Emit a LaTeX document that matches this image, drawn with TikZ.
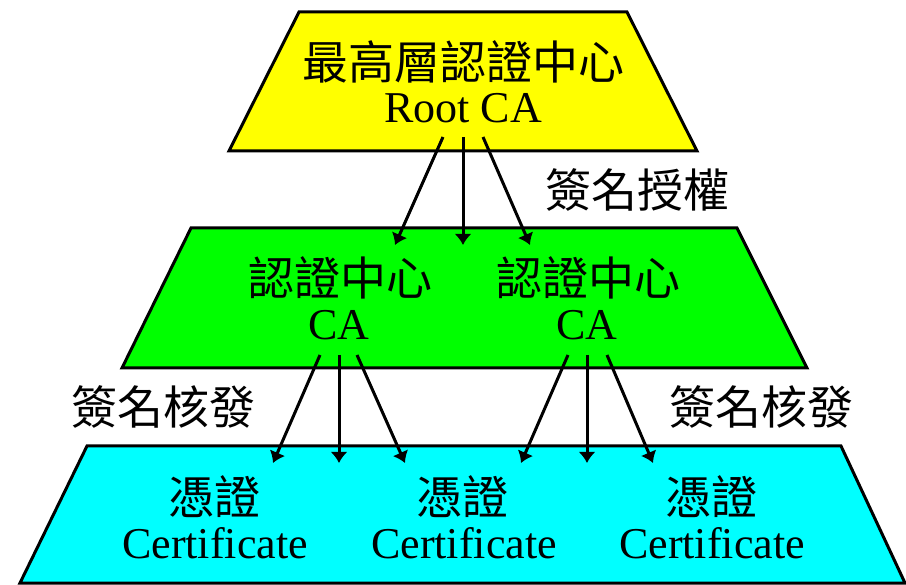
\documentclass[tikz,border=0pt]{standalone}
\usepackage{fontspec}
\setmainfont{Liberation Serif}
\newfontfamily\cjk{Noto Sans CJK TC}
\usetikzlibrary{arrows.meta}
\definecolor{rootyellow}{RGB}{255,255,0}
\definecolor{cagreen}{RGB}{0,255,0}
\definecolor{certcyan}{RGB}{0,255,255}
\tikzset{
  zh/.style = {font = \cjk\fontsize{46}{46}\selectfont, inner sep = 0pt},
  en/.style = {font = \fontsize{44}{44}\selectfont, inner sep = 0pt},
  sign/.style = {-{Latex[length = 11pt, width = 17pt]}, line width = 3pt},
  layer/.style = {line width = 3pt, line join = miter}
}
\begin{document}
\begin{tikzpicture}[x = 1pt, y = -1pt]
    \useasboundingbox (0, 0) rectangle (906, 585);
    \draw[layer, fill = rootyellow] (299, 12) -- (627, 12) -- (697, 151) --
          (229, 151) -- cycle;
    \draw[layer, fill = cagreen] (191, 228) -- (737, 228) -- (807, 368) --
          (122, 368) -- cycle;
    \draw[layer, fill = certcyan] (87, 446) -- (841, 446) -- (905, 583) --
          (20, 583) -- cycle;

    \node[zh] (rootzh) at (463, 62) {最高層認證中心};
    \node[en] (rooten) at (463, 108) {Root CA};
    \node[zh] (cazhl) at (340, 278) {認證中心};
    \node[en] (caenl) at (339, 325) {CA};
    \node[zh] (cazhr) at (588, 278) {認證中心};
    \node[en] (caenr) at (587, 325) {CA};
    \node[zh] (certzha) at (214, 497) {憑證};
    \node[en] (certena) at (215, 543) {Certificate};
    \node[zh] (certzhb) at (462, 497) {憑證};
    \node[en] (certenb) at (464, 543) {Certificate};
    \node[zh] (certzhc) at (711, 497) {憑證};
    \node[en] (certenc) at (712, 543) {Certificate};
    \node[zh] (grant) at (637, 190) {簽名授權};
    \node[zh] (issuel) at (163, 407) {簽名核發};
    \node[zh] (issuer) at (761, 407) {簽名核發};

    \coordinate (rootport) at (463, 137);
    \coordinate (caport) at (463, 245);
    \coordinate (caportl) at (339, 355);
    \coordinate (caportr) at (587, 355);
    \coordinate (certportl) at (339, 463);
    \coordinate (certportr) at (587, 463);

    \draw[sign] ([xshift = -20pt]rootport) -- ([xshift = -68pt]caport);
    \draw[sign] (rootport) -- (caport);
    \draw[sign] ([xshift = 20pt]rootport) -- ([xshift = 67pt]caport);
    \draw[sign] ([xshift = -19pt]caportl) -- ([xshift = -66pt]certportl);
    \draw[sign] (caportl) -- (certportl);
    \draw[sign] ([xshift = 18pt]caportl) -- ([xshift = 66pt]certportl);
    \draw[sign] ([xshift = -19pt]caportr) -- ([xshift = -66pt]certportr);
    \draw[sign] (caportr) -- (certportr);
    \draw[sign] ([xshift = 20pt]caportr) -- ([xshift = 66pt]certportr);
    %\draw[help lines, step = 50] (0, 0) grid (906, 585);
\end{tikzpicture}
\end{document}
